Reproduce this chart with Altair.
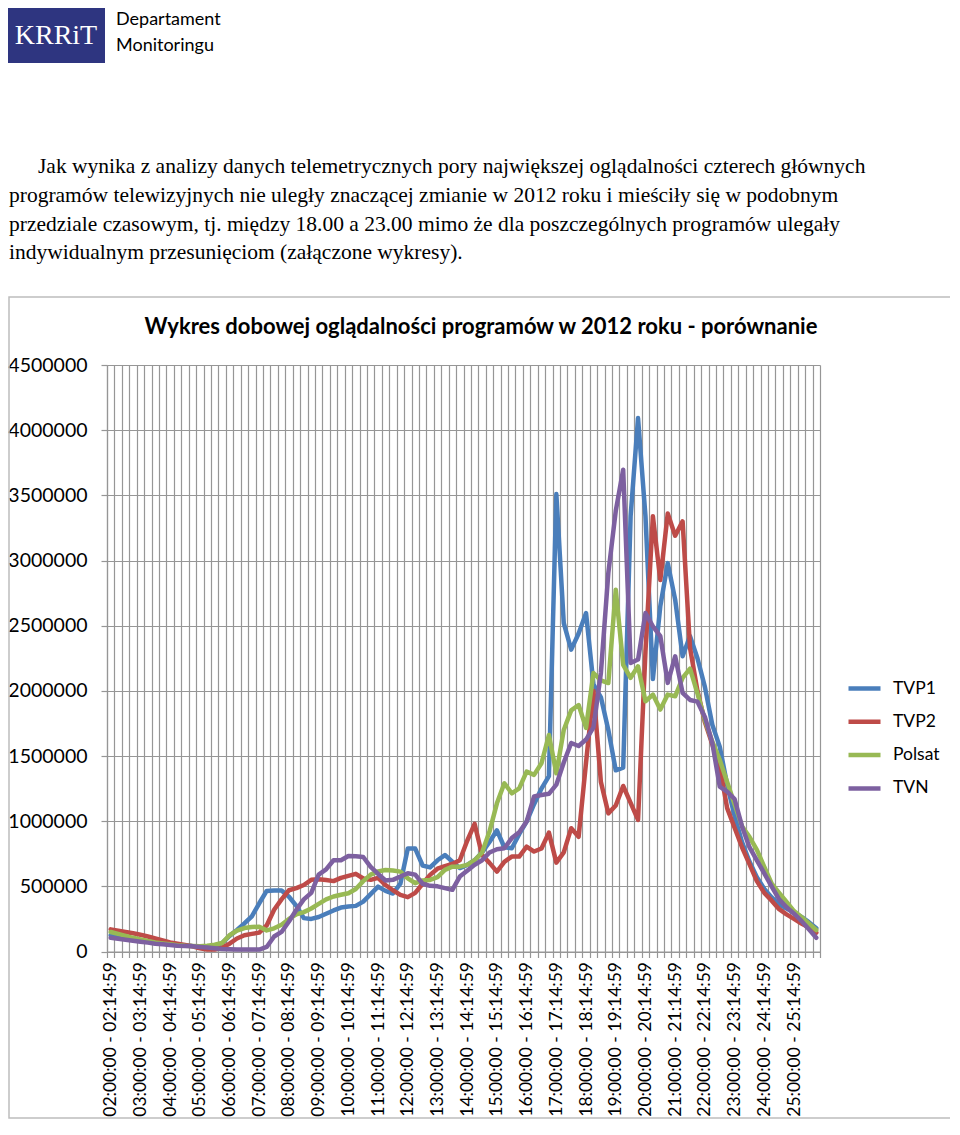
import altair as alt
import pandas as pd

# ---------------- data ----------------
series_names = ["TVP1", "TVP2", "Polsat", "TVN"]
series_colors = ["#4A7EBB", "#BE4B48", "#98B954", "#7D60A0"]

# 96 quarter-hour slots, 02:00 ... 25:45 ; labels shown every full hour
hour_labels = [
    "02:00:00 - 02:14:59", "03:00:00 - 03:14:59", "04:00:00 - 04:14:59", "05:00:00 - 05:14:59",
    "06:00:00 - 06:14:59", "07:00:00 - 07:14:59", "08:00:00 - 08:14:59", "09:00:00 - 09:14:59",
    "10:00:00 - 10:14:59", "11:00:00 - 11:14:59", "12:00:00 - 12:14:59", "13:00:00 - 13:14:59",
    "14:00:00 - 14:14:59", "15:00:00 - 15:14:59", "16:00:00 - 16:14:59", "17:00:00 - 17:14:59",
    "18:00:00 - 18:14:59", "19:00:00 - 19:14:59", "20:00:00 - 20:14:59", "21:00:00 - 21:14:59",
    "22:00:00 - 22:14:59", "23:00:00 - 23:14:59", "24:00:00 - 24:14:59", "25:00:00 - 25:14:59",
]

y_ticks = [0, 500000, 1000000, 1500000, 2000000, 2500000, 3000000, 3500000, 4000000, 4500000]

tvp1 = [125000, 115000, 105000, 95000, 85000, 78000, 70000, 62000, 55000, 50000,
        46000, 42000, 40000, 38000, 42000, 65000, 120000, 165000, 215000, 270000,
        370000, 465000, 468000, 468000, 420000, 350000, 256000, 250000, 265000, 290000,
        315000, 337000, 345000, 350000, 383000, 440000, 498000, 465000, 445000, 520000,
        790000, 790000, 660000, 645000, 700000, 740000, 690000, 640000, 665000, 700000,
        760000, 840000, 930000, 800000, 792000, 900000, 997000, 1130000, 1250000, 1345000,
        3510000, 2520000, 2316000, 2440000, 2597000, 2050000, 1950000, 1700000, 1390000, 1410000,
        3340000, 4093000, 3340000, 2090000, 2650000, 2980000, 2700000, 2265000, 2420000, 2250000,
        2030000, 1740000, 1572000, 1280000, 1040000, 840000, 690000, 570000, 480000, 415000,
        360000, 330000, 300000, 265000, 225000, 179000]

tvp2 = [170000, 160000, 150000, 140000, 128000, 115000, 100000, 85000, 70000, 60000,
        50000, 40000, 25000, 15000, 15000, 30000, 60000, 100000, 125000, 135000,
        145000, 200000, 320000, 400000, 470000, 486000, 510000, 550000, 555000, 548000,
        540000, 565000, 580000, 596000, 560000, 550000, 565000, 510000, 470000, 434000,
        417000, 450000, 520000, 588000, 635000, 655000, 672000, 700000, 850000, 979000,
        740000, 680000, 613000, 688000, 728000, 728000, 805000, 767000, 790000, 912000,
        682000, 760000, 946000, 880000, 1450000, 2000000, 1300000, 1060000, 1120000, 1270000,
        1140000, 1010000, 2300000, 3340000, 2850000, 3360000, 3190000, 3300000, 2330000, 2000000,
        1760000, 1590000, 1419000, 1100000, 950000, 800000, 670000, 540000, 450000, 390000,
        325000, 285000, 250000, 215000, 185000, 145000]

polsat = [150000, 135000, 120000, 105000, 92000, 80000, 70000, 62000, 55000, 48000,
          44000, 42000, 40000, 45000, 52000, 65000, 125000, 160000, 180000, 188000,
          190000, 162000, 178000, 205000, 250000, 285000, 302000, 330000, 365000, 400000,
          422000, 435000, 447000, 480000, 540000, 590000, 615000, 625000, 621000, 613000,
          562000, 524000, 545000, 549000, 570000, 626000, 651000, 651000, 665000, 700000,
          760000, 920000, 1137000, 1291000, 1214000, 1252000, 1380000, 1355000, 1444000, 1661000,
          1367000, 1700000, 1850000, 1891000, 1716000, 2137000, 2080000, 2060000, 2776000, 2200000,
          2100000, 2188000, 1920000, 1971000, 1856000, 1971000, 1958000, 2100000, 2170000, 1980000,
          1776000, 1610000, 1470000, 1300000, 1130000, 960000, 880000, 780000, 650000, 520000,
          450000, 380000, 310000, 265000, 215000, 165000]

tvn = [105000, 98000, 90000, 82000, 75000, 68000, 60000, 55000, 50000, 45000,
       42000, 40000, 35000, 30000, 25000, 20000, 18000, 15000, 15000, 15000,
       15000, 35000, 115000, 150000, 230000, 320000, 400000, 450000, 590000, 630000,
       700000, 700000, 733000, 730000, 725000, 650000, 595000, 545000, 550000, 575000,
       600000, 590000, 520000, 504000, 500000, 486000, 473000, 575000, 620000, 665000,
       700000, 760000, 785000, 792000, 870000, 915000, 997000, 1190000, 1201000, 1210000,
       1280000, 1450000, 1600000, 1577000, 1626000, 1720000, 2137000, 2904000, 3380000, 3697000,
       2214000, 2240000, 2597000, 2495000, 2420000, 2061000, 2265000, 1984000, 1930000, 1917000,
       1800000, 1600000, 1265000, 1227000, 1170000, 960000, 800000, 700000, 600000, 498000,
       400000, 340000, 290000, 235000, 170000, 105000]

rows = []
for name, vals in zip(series_names, [tvp1, tvp2, polsat, tvn]):
    for i, v in enumerate(vals):
        rows.append({"slot": i, "series": name, "viewers": v})
df = pd.DataFrame(rows)
n_slots = len(tvp1)

# ---------------- styling ----------------
FONT = "Lato"
SERIF = "Liberation Serif"
GRID = "#969696"
W, H = 713, 586.5

xscale = alt.Scale(domain=[0, n_slots], nice=False, zero=False)
yscale = alt.Scale(domain=[0, 4500000], nice=False, zero=True)

label_js = "[" + ",".join("'%s'" % s for s in hour_labels) + "]"

y_axis = alt.Axis(
    values=y_ticks, format="d", grid=True, gridColor=GRID, gridWidth=1.2,
    tickSize=6, tickColor=GRID, tickWidth=1.2, domainColor=GRID, domainWidth=1.2,
    labelPadding=14, labelFont=FONT, labelFontSize=19.5, labelColor="black", title=None)

base = alt.Chart(df).transform_calculate(xc="datum.slot + 0.5")

grid_layer = base.mark_line(strokeOpacity=0).encode(
    x=alt.X("xc:Q", scale=xscale, axis=alt.Axis(
        orient="bottom", values=list(range(0, n_slots + 1)), grid=True,
        gridColor=GRID, gridWidth=1.2, labels=False, ticks=True, tickSize=6,
        tickColor=GRID, tickWidth=1.2, domain=True, domainColor=GRID, title=None,
        labelFlush=False)),
    y=alt.Y("viewers:Q", scale=yscale, axis=y_axis),
)

line_layer = base.mark_line(strokeWidth=4.5, strokeJoin="round", strokeCap="round").encode(
    x=alt.X("xc:Q", scale=xscale, axis=alt.Axis(
        orient="bottom", values=[i * 4 + 0.5 for i in range(len(hour_labels))],
        labelExpr=label_js + "[floor(datum.value/4)]",
        labelAngle=270, labelAlign="right", labelBaseline="middle",
        labelFont=FONT, labelFontSize=17.5, labelColor="black", labelPadding=10,
        labelOverlap=False, labelFlush=False, labelBound=False,
        ticks=False, domain=False, grid=False, title=None)),
    y=alt.Y("viewers:Q", scale=yscale, axis=y_axis),
    color=alt.Color("series:N", sort=series_names,
                    scale=alt.Scale(domain=series_names, range=series_colors),
                    legend=alt.Legend(orient="none", legendX=739, legendY=305, title=None,
                                      symbolType="stroke", symbolSize=1024,
                                      symbolStrokeWidth=4.5, labelFont=FONT,
                                      labelFontSize=17.5, labelColor="black",
                                      labelOffset=10, rowPadding=5.3)),
)

dummy = pd.DataFrame({"k": [0]})


def txt(s, x, y, size, font, weight="normal", color="black", align="left"):
    return alt.Chart(dummy).mark_text(
        text=s, fontSize=size, font=font, fontWeight=weight, color=color,
        align=align, baseline="middle").encode(x=alt.value(x), y=alt.value(y))


border = alt.Chart(dummy).mark_rect(fill=None, stroke="#BDBDBD", strokeWidth=1.5).encode(
    x=alt.value(-98), x2=alt.value(844), y=alt.value(-68), y2=alt.value(753))

logo = alt.Chart(dummy).mark_rect(color="#2E3580").encode(
    x=alt.value(-99), x2=alt.value(-2), y=alt.value(-358), y2=alt.value(-302))

para = [
    ("Jak wynika z analizy danych telemetrycznych pory największej oglądalności czterech głównych", -69, -198),
    ("programów telewizyjnych nie uległy znaczącej zmianie w 2012 roku i mieściły  się w podobnym", -98, -169),
    ("przedziale czasowym, tj. między 18.00 a 23.00 mimo że dla poszczególnych programów ulegały", -98, -140),
    ("indywidualnym przesunięciom (załączone wykresy).", -98, -112),
]

texts = [
    txt("KRRiT", -51, -329, 28, SERIF, color="white", align="center"),
    txt("Departament", 9, -345.5, 18, FONT),
    txt("Monitoringu", 9, -319.5, 18, FONT),
    txt("Wykres dobowej oglądalności programów w 2012 roku - porównanie", 374, -38, 22, FONT, weight="bold", align="center"),
] + [txt(s, x, y, 21.5, SERIF) for s, x, y in para]

chart = alt.layer(border, grid_layer, line_layer, logo, *texts).resolve_axis(
    x="independent"
).properties(
    width=W, height=H,
    autosize=alt.AutoSizeParams(type="none"),
    padding={"left": 99, "top": 357, "right": 130, "bottom": 168.5},
    background="white",
).configure_view(stroke=None)

chart.save("out.html", embed_options={"renderer": "svg", "actions": False})
